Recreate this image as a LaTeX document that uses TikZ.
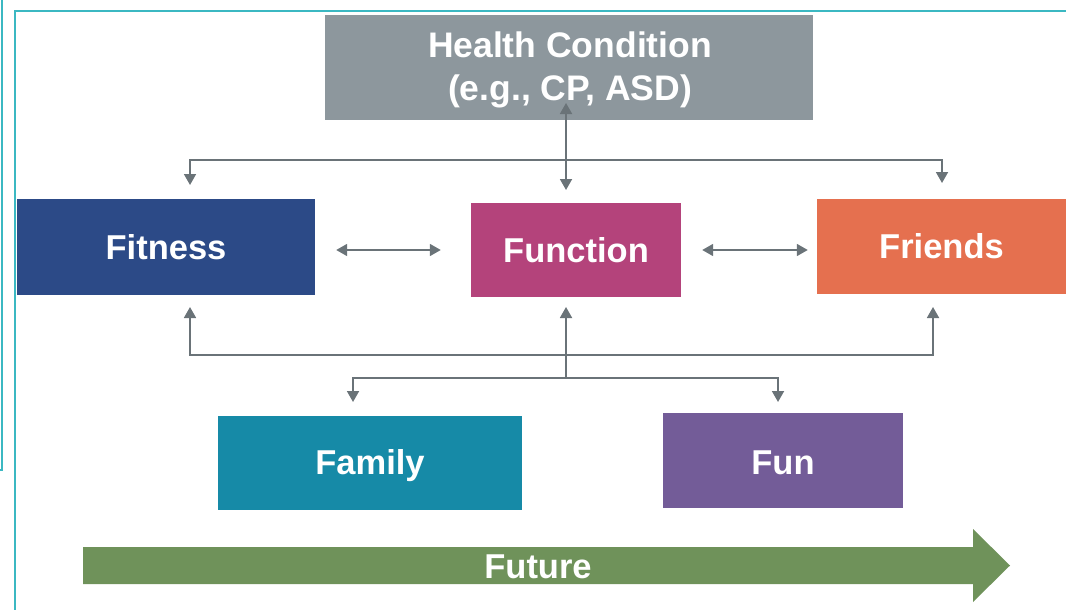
\documentclass[tikz,border=0pt]{standalone}
\usepackage{fontspec}
\setmainfont{Liberation Sans}
\usetikzlibrary{arrows.meta,calc}
\definecolor{cHealth}{HTML}{8D979D}
\definecolor{cFitness}{HTML}{2C4A87}
\definecolor{cFunction}{HTML}{B4437B}
\definecolor{cFriends}{HTML}{E5704F}
\definecolor{cFamily}{HTML}{168AA7}
\definecolor{cFun}{HTML}{735C98}
\definecolor{cFuture}{HTML}{6F925A}
\definecolor{cLine}{HTML}{6A7378}
\definecolor{cFrame}{HTML}{3BB8C2}
\tikzset{
  box/.style={rectangle, inner sep=0pt, text=white, align=center,
    font=\fontsize{34.5}{43}\selectfont\bfseries},
  conn/.style={draw=cLine, line width=1.8pt, -{Triangle[length=11pt,width=12pt]}},
  dconn/.style={draw=cLine, line width=1.8pt, {Triangle[length=11pt,width=12pt]}-{Triangle[length=11pt,width=12pt]}},
  frame/.style={draw=cFrame, line width=2pt}
}
\begin{document}
\begin{tikzpicture}[x=1pt,y=-1pt]
\useasboundingbox (0,0) rectangle (1066,610);
% frames
\draw[frame] (2,0) -- (2,470) -- (0,470);
\draw[frame] (15,610) -- (15,11) -- (1066,11);
% boxes
\node[box, fill=cHealth, minimum width=488pt, minimum height=105pt] (health) at (569,67.5) {};
\node[box, font=\fontsize{35.5}{43}\selectfont\bfseries] (healthtext) at (570,70) {Health Condition\\(e.g., CP, ASD)};
\node[box, fill=cFitness, minimum width=298pt, minimum height=96pt] (fitness) at (166,247) {Fitness};
\node[box, fill=cFunction, minimum width=210pt, minimum height=94pt] (function) at (576,250) {Function};
\node[box, fill=cFriends, minimum width=249pt, minimum height=95pt] (friends) at (941.5,246.5) {Friends};
\node[box, fill=cFamily, minimum width=304pt, minimum height=94pt] (family) at (370,463) {};
\node[box] (familytext) at (370,466) {Family};
\node[box, fill=cFun, minimum width=240pt, minimum height=95pt] (fun) at (783,460.5) {};
\node[box] (funtext) at (783,463) {Fun};
% future arrow
\fill[cFuture] (83,547) -- (973,547) -- (973,529) -- (1010,565.5) -- (973,602) -- (973,584) -- (83,584) -- cycle;
\node[box] (future) at (538,567) {Future};
% coordinates
\coordinate (hc) at (566,103);
\coordinate (fc) at (566,190);
\coordinate (tl) at (190,185);
\coordinate (tr) at (942,183);
\coordinate (bl) at (190,307);
\coordinate (bm) at (566,307);
\coordinate (br) at (933,307);
\coordinate (jn) at (566,378);
\coordinate (fa) at (353,402);
\coordinate (fu) at (778,402);
% top connectors
\draw[dconn] (tl) -- ++(0,-25) -| (tr);
\draw[dconn] (hc) -- (fc);
% side connectors
\draw[dconn, shorten <=21pt, shorten >=30pt] (fitness.east |- function.center) -- (function.west);
\draw[dconn, shorten <=21pt, shorten >=9pt] (function.east) -- (friends.west |- function.center);
% bottom connectors
\draw[dconn] (bl) -- (bl |- 0,355) -| (br);
\draw[conn] (jn) -- (bm);
\draw[dconn] (fa) |- (jn) -| (fu);
\end{tikzpicture}
\end{document}
